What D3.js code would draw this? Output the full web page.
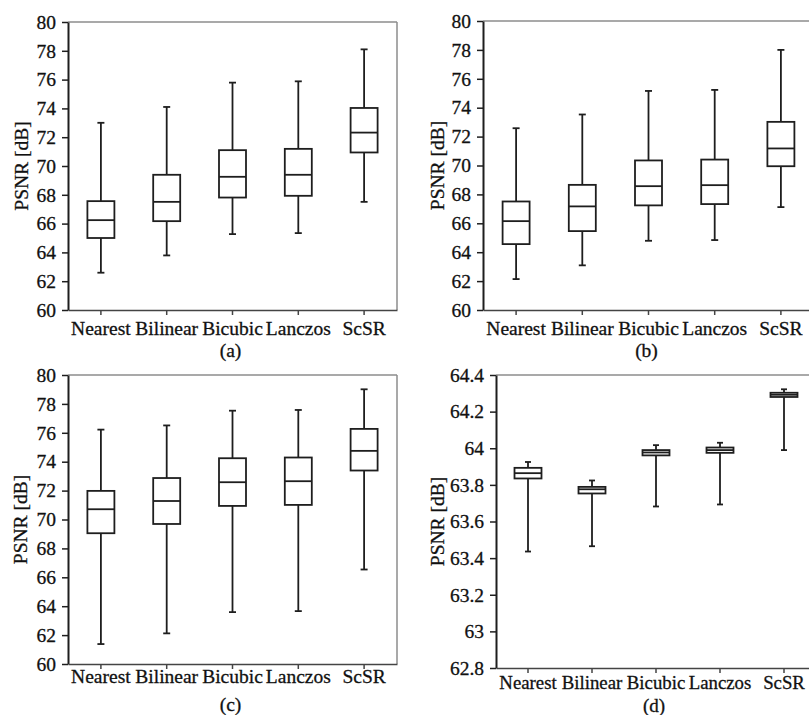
<!DOCTYPE html>
<html>
<head>
<meta charset="utf-8">
<script src="https://cdn.jsdelivr.net/npm/d3@7"></script>
<style>
  body { margin: 0; background: #fff; }
  svg { display: block; }
  svg text { font-family: "Liberation Serif", "Times New Roman", serif; fill: #111; stroke: #111; stroke-width: 0.3px; }
</style>
</head>
<body>
<svg id="chart" width="809" height="715"></svg>
<script>
const methods = ["Nearest", "Bilinear", "Bicubic", "Lanczos", "ScSR"];

// (a)
const lowA  = [62.59, 63.79, 65.27, 65.34, 67.51];
const q1A   = [65.00, 66.17, 67.81, 67.93, 70.94];
const medA  = [66.24, 67.51, 69.25, 69.39, 72.32];
const q3A   = [67.56, 69.39, 71.10, 71.19, 74.03];
const highA = [73.00, 74.10, 75.79, 75.88, 78.10];

// (b)
const lowB  = [62.14, 63.09, 64.79, 64.84, 67.12];
const q1B   = [64.56, 65.46, 67.24, 67.33, 69.95];
const medB  = [66.15, 67.17, 68.57, 68.64, 71.18];
const q3B   = [67.51, 68.66, 70.35, 70.41, 73.02];
const highB = [72.58, 73.53, 75.16, 75.23, 78.00];

// (c)
const lowC  = [61.38, 62.12, 63.59, 63.66, 66.54];
const q1C   = [69.05, 69.69, 70.94, 71.01, 73.39];
const medC  = [70.71, 71.28, 72.58, 72.65, 74.75];
const q3C   = [71.98, 72.87, 74.24, 74.29, 76.27];
const highC = [76.22, 76.51, 77.53, 77.58, 79.01];

// (d)
const lowD  = [63.436, 63.465, 63.682, 63.693, 63.990];
const q1D   = [63.835, 63.753, 63.961, 63.975, 64.280];
const medD  = [63.864, 63.776, 63.977, 63.990, 64.292];
const q3D   = [63.893, 63.789, 63.990, 64.004, 64.303];
const highD = [63.925, 63.824, 64.017, 64.030, 64.322];

const ticksABC = [60, 62, 64, 66, 68, 70, 72, 74, 76, 78, 80];
const ticksD = [62.8, 63, 63.2, 63.4, 63.6, 63.8, 64, 64.2, 64.4];

const yTitle = "PSNR [dB]";

const panels = [
    {cap: "(a)", low: lowA, q1: q1A, med: medA, q3: q3A, high: highA, ticks: ticksABC,
     left: 68, right: 397, top: 22, bottom: 310, pad: 6, titleX: 21, capY: 357, capW: 7, fs: 19.5, capFs: 19.5},
    {cap: "(b)", low: lowB, q1: q1B, med: medB, q3: q3B, high: highB, ticks: ticksABC,
     left: 483, right: 814, top: 21, bottom: 310, pad: 6, titleX: 437, capY: 357, capW: 7, fs: 19.5, capFs: 19.5},
    {cap: "(c)", low: lowC, q1: q1C, med: medC, q3: q3C, high: highC, ticks: ticksABC,
     left: 68, right: 397, top: 375, bottom: 664, pad: 0, titleX: 20, capY: 711, capW: 7, fs: 19.5, capFs: 19.5},
    {cap: "(d)", low: lowD, q1: q1D, med: medD, q3: q3D, high: highD, ticks: ticksD,
     left: 496, right: 816, top: 375, bottom: 668, pad: 3, titleX: 437, capY: 712, capW: 6, fs: 18.8, capFs: 19}
];

const svg = d3.select("#chart");
const fmt = d3.format(".1~f");
const boxW = 27;
const ink = "#1e1e1e";

panels.forEach(p => {
    const x = d3.scaleBand().domain(methods).range([p.left, p.right]);
    const y = d3.scaleLinear().domain(d3.extent(p.ticks)).range([p.bottom, p.top]);
    const g = svg.append("g");

    // frame top / right (light grey)
    g.append("line").attr("x1", p.left).attr("x2", p.right).attr("y1", p.top).attr("y2", p.top)
        .attr("stroke", "#8c8c8c").attr("stroke-width", 1.5);
    g.append("line").attr("x1", p.right).attr("x2", p.right).attr("y1", p.top).attr("y2", p.bottom)
        .attr("stroke", "#8c8c8c").attr("stroke-width", 1.5);

    const yAxis = g.append("g")
        .attr("transform", `translate(${p.left},0)`)
        .call(d3.axisLeft(y).tickValues(p.ticks).tickFormat(fmt).tickSize(6).tickSizeOuter(0).tickPadding(6));
    yAxis.attr("font-family", null);
    yAxis.select(".domain").attr("stroke", ink).attr("stroke-width", 2);
    yAxis.selectAll(".tick line").attr("stroke", ink).attr("stroke-width", 1.5);
    yAxis.selectAll("text").attr("font-size", 19.5);

    const xAxis = g.append("g")
        .attr("transform", `translate(0,${p.bottom})`)
        .call(d3.axisBottom(x).tickSize(5).tickSizeOuter(0).tickPadding(p.pad));
    xAxis.attr("font-family", null);
    xAxis.select(".domain").attr("stroke", "#444").attr("stroke-width", 1.6);
    xAxis.selectAll(".tick line").attr("stroke", "#444").attr("stroke-width", 1.5);
    xAxis.selectAll("text").attr("font-size", p.fs);

    // boxes
    const box = g.append("g").selectAll("g")
        .data(methods.map((m, i) => ({m, low: p.low[i], q1: p.q1[i], med: p.med[i], q3: p.q3[i], high: p.high[i]})))
        .join("g")
        .attr("transform", d => `translate(${x(d.m) + x.bandwidth() / 2},0)`)
        .attr("stroke", ink)
        .attr("stroke-width", 1.8);

    box.append("line").attr("y1", d => y(d.high)).attr("y2", d => y(d.q3));
    box.append("line").attr("y1", d => y(d.q1)).attr("y2", d => y(d.low));
    box.append("line").attr("x1", -p.capW / 2).attr("x2", p.capW / 2)
        .attr("y1", d => y(d.high)).attr("y2", d => y(d.high));
    box.append("line").attr("x1", -p.capW / 2).attr("x2", p.capW / 2)
        .attr("y1", d => y(d.low)).attr("y2", d => y(d.low));
    box.append("rect")
        .attr("x", -boxW / 2).attr("width", boxW)
        .attr("y", d => y(d.q3)).attr("height", d => y(d.q1) - y(d.q3))
        .attr("fill", "#fff");
    box.append("line").attr("x1", -boxW / 2).attr("x2", boxW / 2)
        .attr("y1", d => y(d.med)).attr("y2", d => y(d.med));

    // y title
    g.append("text")
        .attr("transform", `translate(${p.titleX},${(p.top + p.bottom) / 2}) rotate(-90)`)
        .attr("text-anchor", "middle")
        .attr("dy", "0.35em")
        .attr("font-size", 19.5)
        .text(yTitle);

    // caption
    g.append("text")
        .attr("x", (p.left + p.right) / 2 - 2)
        .attr("y", p.capY)
        .attr("text-anchor", "middle")
        .attr("font-size", p.capFs)
        .text(p.cap);
});
</script>
</body>
</html>
